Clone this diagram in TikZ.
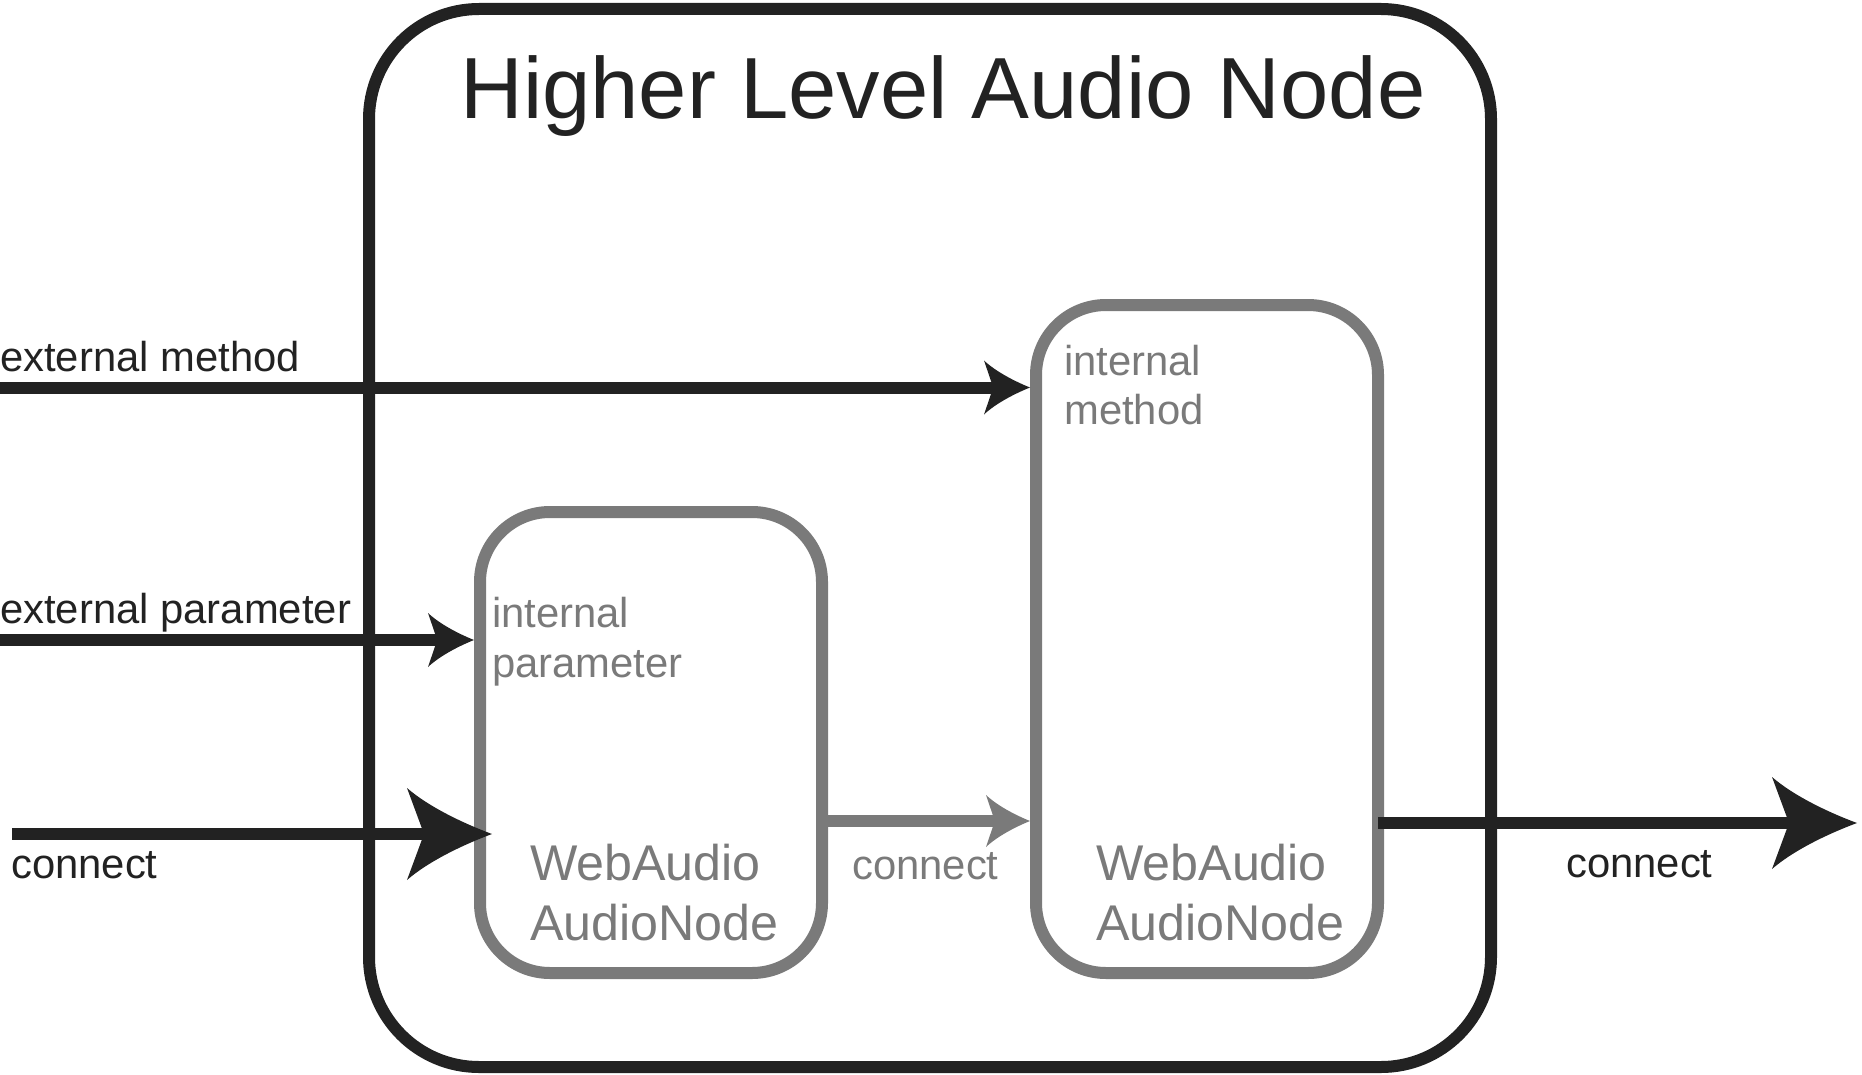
\documentclass[tikz,border=0pt]{standalone}
\usepackage{fontspec}
\setmainfont{Liberation Sans}
\usetikzlibrary{arrows.meta}
\definecolor{ink}{HTML}{222222}
\definecolor{gry}{HTML}{7A7A7A}
\pgfdeclarearrow{
  name=Swept,
  parameters={\the\pgfarrowlength,\the\pgfarrowwidth},
  setup code={
    \pgfarrowssettipend{0pt}
    \pgfarrowssetlineend{-0.55\pgfarrowlength}
    \pgfarrowssetbackend{-\pgfarrowlength}
    \pgfarrowssetvisualbackend{-0.8\pgfarrowlength}
    \pgfarrowssavethe\pgfarrowlength
    \pgfarrowssavethe\pgfarrowwidth
  },
  drawing code={
    \pgfpathmoveto{\pgfpointorigin}
    \pgfpathcurveto{\pgfpoint{-0.35\pgfarrowlength}{0.12\pgfarrowwidth}}{\pgfpoint{-0.75\pgfarrowlength}{0.3\pgfarrowwidth}}{\pgfpoint{-\pgfarrowlength}{0.5\pgfarrowwidth}}
    \pgfpathlineto{\pgfpoint{-0.8\pgfarrowlength}{0pt}}
    \pgfpathlineto{\pgfpoint{-\pgfarrowlength}{-0.5\pgfarrowwidth}}
    \pgfpathcurveto{\pgfpoint{-0.75\pgfarrowlength}{-0.3\pgfarrowwidth}}{\pgfpoint{-0.35\pgfarrowlength}{-0.12\pgfarrowwidth}}{\pgfpointorigin}
    \pgfpathclose
    \pgfusepathqfill
  },
  defaults={length=44pt,width=52pt}
}
\tikzset{
  outerbox/.style={draw=ink, line width=12pt, rounded corners=110pt, minimum width=1122pt, minimum height=1058pt, inner sep=0pt},
  innerbox/.style={draw=gry, line width=12pt, rounded corners=70pt, minimum width=342pt, inner sep=0pt},
  blackconn/.style={draw=ink, line width=12pt, -{Swept[length=46pt,width=54pt]}},
  bigconn/.style={draw=ink, line width=12pt, -{Swept[length=85pt,width=92pt]}},
  grayconn/.style={draw=gry, line width=12pt, -{Swept}},
  lbl/.style={inner sep=0pt, anchor=base west, text=ink, font=\fontsize{41.8}{50}\selectfont},
  glbl/.style={lbl, text=gry},
  bigglbl/.style={glbl, font=\fontsize{50.2}{60}\selectfont},
  titlelbl/.style={inner sep=0pt, anchor=base, text=ink, font=\fontsize{86.8}{100}\selectfont}
}
\begin{document}
\begin{tikzpicture}[x=1pt,y=-1pt]
\useasboundingbox (0,0) rectangle (1862,1075);
% boxes
\node[outerbox] (outer) at (930,538) {};
\node[innerbox, minimum height=461pt] (lbox) at (651,742.5) {};
\node[innerbox, minimum height=668pt] (rbox) at (1207,639) {};
% texts
\node[titlelbl] (title) at (943,119) {Higher Level Audio Node};
\node[lbl] (extm) at (0,371) {external method};
\node[lbl] (extp) at (0,623) {external parameter};
\node[lbl] (conL) at (11,878) {connect};
\node[lbl] (conR) at (1566,877) {connect};
\node[glbl] (conM) at (852,879) {connect};
\node[glbl] (ip1) at (492,627) {internal};
\node[glbl] (ip2) at (492,677) {parameter};
\node[glbl] (im1) at (1064,375) {internal};
\node[glbl] (im2) at (1064,424) {method};
\node[bigglbl] (wa1) at (530,880) {WebAudio};
\node[bigglbl] (wa2) at (530,940) {AudioNode};
\node[bigglbl] (wb1) at (1096,880) {WebAudio};
\node[bigglbl] (wb2) at (1096,940) {AudioNode};
% connectors
\coordinate (em0) at (0,387.5);
\coordinate (ep0) at (0,640);
\coordinate (ci0) at (12,834);
\coordinate (mc) at (0,821);
\coordinate (oc) at (0,823);
\coordinate (out1) at (1857,823);
\draw[blackconn] (em0) -- (em0 -| rbox.west);
\draw[blackconn] (ep0) -- (ep0 -| lbox.west);
\draw[bigconn, shorten >=-18pt] (ci0) -- (ci0 -| lbox.west);
\draw[grayconn] (mc -| lbox.east) -- (mc -| rbox.west);
\draw[bigconn, shorten <=-6pt] (oc -| rbox.east) -- (out1);
\end{tikzpicture}
\end{document}
